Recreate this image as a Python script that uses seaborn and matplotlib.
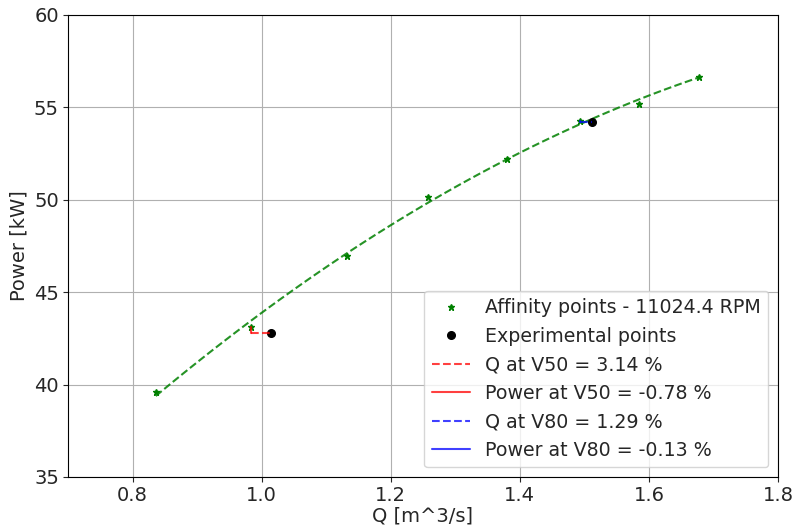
import matplotlib
matplotlib.use("Agg")
import matplotlib.pyplot as plt
import seaborn as sns
import numpy as np
import pandas as pd

# Data
aff_q = [0.836, 0.984, 1.1326, 1.258, 1.3806, 1.4931, 1.585, 1.677]
aff_p = [39.60, 43.12, 46.96, 50.15, 52.21, 54.28, 55.18, 56.65]
exp_q = [1.0147, 1.5124]
exp_p = [42.79, 54.21]
# affinity reference points for V50 and V80
v_aff_q = [0.984, 1.4931]
v_aff_p = [43.12, 54.28]
rpm_label = "Affinity points - 11024.4 RPM"
q_err = [3.14, 1.29]
p_err = [-0.78, -0.13]
v_names = ["V50", "V80"]
v_colors = ["red", "blue"]

sns.set_style("ticks")
plt.rcParams['font.family'] = ['DejaVu Sans']

fig, ax = plt.subplots(figsize=(7.95, 5.28), dpi=100)
fig.subplots_adjust(left=0.0855, right=0.9786, top=0.9716, bottom=0.0966)

aff_df = pd.DataFrame({"Q": aff_q, "P": aff_p})

# fitted trend of the affinity points (seaborn regression, quadratic)
sns.regplot(data=aff_df, x="Q", y="P", ax=ax, order=2, ci=None, scatter=False,
            line_kws=dict(color="green", linestyle="--", linewidth=1.5, alpha=0.85),
            label="_nolegend_")
ax.plot(aff_q, aff_p, linestyle="none", marker="*", color="green",
        markersize=5, label=rpm_label)
ax.plot(exp_q, exp_p, linestyle="none", marker="o", color="black",
        markersize=5.5, label="Experimental points")

for i in range(2):
    ax.plot([v_aff_q[i], exp_q[i]], [exp_p[i], exp_p[i]], color=v_colors[i],
            linestyle="--", alpha=0.75, linewidth=1.5,
            label=f"Q at {v_names[i]} = {q_err[i]:.2f} %")
    ax.plot([v_aff_q[i], v_aff_q[i]], [v_aff_p[i], exp_p[i]], color=v_colors[i],
            linestyle="-", alpha=0.75, linewidth=1.5,
            label=f"Power at {v_names[i]} = {p_err[i]:.2f} %")

ax.set_xlim(0.7, 1.8)
ax.set_ylim(35, 60)
ax.set_xticks([0.8, 1.0, 1.2, 1.4, 1.6, 1.8])
ax.set_yticks([35, 40, 45, 50, 55, 60])
ax.grid(True, color="#b0b0b0", linewidth=0.8)
ax.tick_params(labelsize=14, direction="out", length=3.5, pad=3)
for s in ax.spines.values():
    s.set_color("black")
    s.set_linewidth(0.8)
ax.set_xlabel("Q [m^3/s]", fontsize=14, labelpad=1)
ax.set_ylabel("Power [kW]", fontsize=14, labelpad=4)
ax.legend(loc="lower right", fontsize=13.7, frameon=True)

fig.savefig("out.png", dpi=100)
